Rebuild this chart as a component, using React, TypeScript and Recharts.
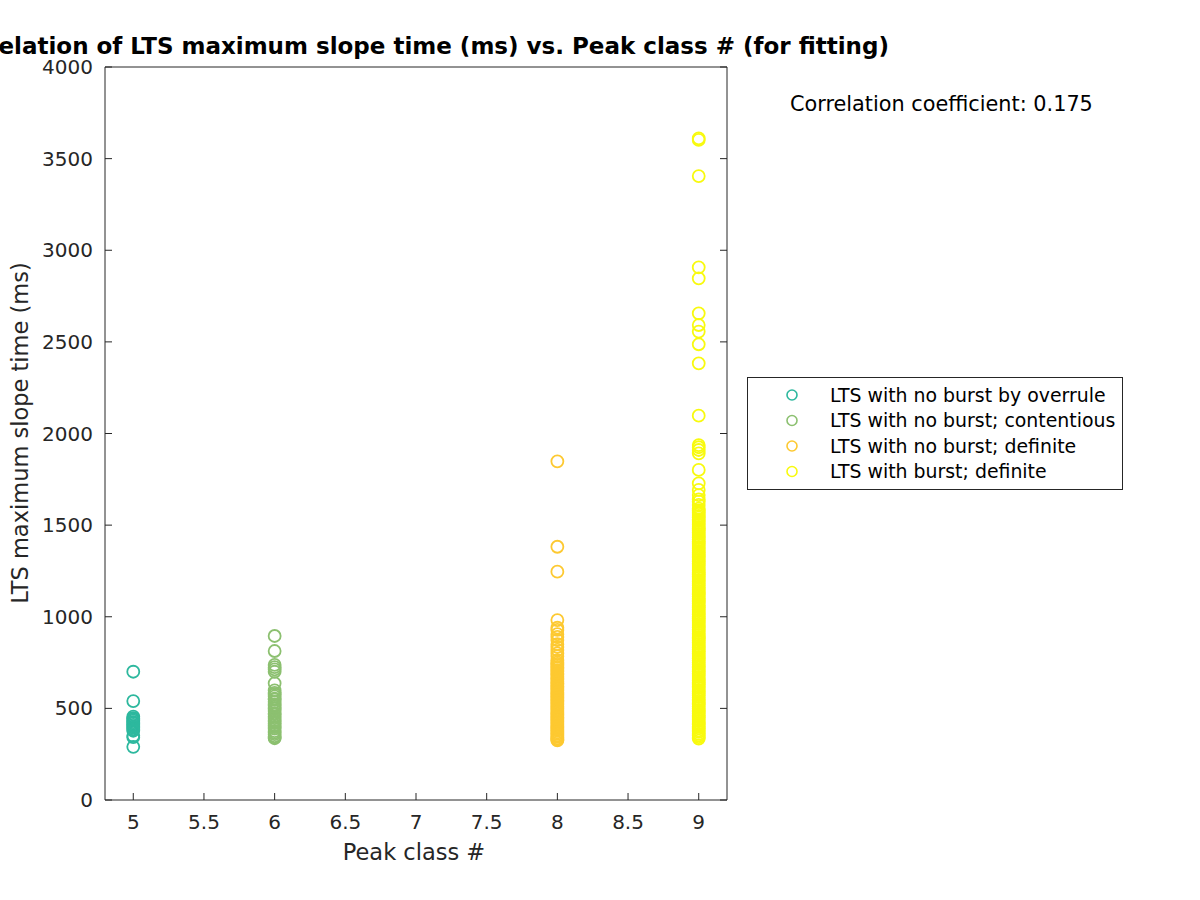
import React from 'react';
import { ScatterChart, Scatter, XAxis, YAxis, Legend, Label } from 'recharts';

// Peak class of each group
const peakClasses = [5, 6, 8, 9];
const seriesNames = [
  'LTS with no burst by overrule',
  'LTS with no burst; contentious',
  'LTS with no burst; definite',
  'LTS with burst; definite',
];

// LTS maximum slope times (ms)
const overruleTimes = [700, 540, 455, 447, 440, 433, 425, 418, 410, 402, 395, 386, 378, 350, 343, 290];
const contentiousTimes = [
  895, 813, 737, 725, 713, 700, 637, 598, 585, 577, 566, 553, 548, 536, 522, 515, 503, 497, 486, 474,
  468, 455, 447, 436, 428, 419, 407, 398, 389, 376, 368, 359, 348, 341, 337,
];
const definiteNoBurstTimes = [
  1848, 1382, 1246, 982, 940, 928, 905, 890, 873, 850, 835, 819, 800, 785,
  762, 751, 743, 735, 726, 718, 709, 701, 690, 684, 673, 665, 657, 648, 639, 631, 622, 614, 606, 597,
  588, 580, 571, 563, 555, 546, 538, 529, 521, 512, 504, 496, 487, 479, 470, 462, 453, 445, 437, 428,
  420, 411, 403, 395, 386, 378, 369, 361, 352, 344, 336, 329, 325,
];
const burstTimes = [
  3611, 3602, 3405, 2907, 2847, 2656, 2592, 2556, 2487, 2383, 2097, 1937, 1925, 1910, 1892, 1801, 1728,
  1692, 1664, 1640, 1628, 1610,
  1590, 1579, 1570, 1561, 1550, 1541, 1530, 1522, 1511, 1502, 1490, 1481, 1472, 1460, 1451, 1440, 1432,
  1421, 1410, 1401, 1392, 1380, 1371, 1360, 1352, 1341, 1330, 1322, 1310, 1301, 1290, 1282, 1271, 1260,
  1251, 1240, 1231, 1220, 1212, 1200, 1191, 1180, 1172, 1161, 1150, 1141, 1130, 1122, 1110, 1101, 1090,
  1082, 1071, 1060, 1051, 1040, 1031, 1020, 1012, 1000, 991, 980, 972, 961, 950, 941, 930, 922, 910, 901,
  890, 882, 871, 860, 851, 840, 831, 820, 812, 800, 791, 780, 772, 761, 750, 741, 730, 722, 710, 701, 690,
  682, 671, 660, 651, 640, 631, 620, 612, 600, 591, 580, 572, 561, 550, 541, 530, 522, 510, 501, 490, 482,
  471, 460, 451, 440, 431, 420, 412, 400, 391, 380, 372, 361, 352, 343, 335,
];

const xTicks = [5, 5.5, 6, 6.5, 7, 7.5, 8, 8.5, 9];
const yTicks = [0, 500, 1000, 1500, 2000, 2500, 3000, 3500, 4000];
const correlationText = 'Correlation coefficient: 0.175';
const titleText = 'Correlation of LTS maximum slope time (ms) vs. Peak class # (for fitting)';

const colors = ['#2db89e', '#8cc070', '#fdc931', '#f8fa0e'];
const axisColor = '#262626';
const FONT = 'DejaVu Sans';

const groups = [overruleTimes, contentiousTimes, definiteNoBurstTimes, burstTimes];
const seriesData = groups.map((g, i) => g.map((v) => ({ x: peakClasses[i], y: v })));

const TICK = 7;

const BottomTick = (p: any) => (
  <g>
    <line x1={p.x} y1={p.y} x2={p.x} y2={p.y - TICK} stroke={axisColor} strokeWidth={1} />
    <text x={p.x} y={p.y + 29} textAnchor="middle" fontSize={20} fill={axisColor} fontFamily={FONT}>
      {String(p.payload.value)}
    </text>
  </g>
);
const TopTick = (p: any) => (
  <line x1={p.x} y1={p.y} x2={p.x} y2={p.y + TICK} stroke={axisColor} strokeWidth={1} />
);
const LeftTick = (p: any) => (
  <g>
    <line x1={p.x} y1={p.y} x2={p.x + TICK} y2={p.y} stroke={axisColor} strokeWidth={1} />
    <text x={p.x - 12} y={p.y + 7} textAnchor="end" fontSize={20} fill={axisColor} fontFamily={FONT}>
      {String(p.payload.value)}
    </text>
  </g>
);
const RightTick = (p: any) => (
  <line x1={p.x} y1={p.y} x2={p.x - TICK} y2={p.y} stroke={axisColor} strokeWidth={1} />
);

const makeShape = (color: string) => (p: any) => (
  <circle cx={p.cx} cy={p.cy} r={6} fill="none" stroke={color} strokeWidth={1.8} />
);

const LegendBox = () => (
  <svg width={377} height={114} style={{ display: 'block' }}>
    <rect x={0.5} y={0.5} width={375} height={112} fill="#ffffff" stroke={axisColor} strokeWidth={1} />
    {seriesNames.map((name, i) => {
      const cy = 18 + i * 25.5;
      return (
        <g key={name}>
          <circle cx={45} cy={cy} r={5} fill="none" stroke={colors[i]} strokeWidth={1.6} />
          <text x={83} y={cy + 6.5} fontSize={18.9} fill="#000" fontFamily={FONT}>
            {name}
          </text>
        </g>
      );
    })}
  </svg>
);

export default function App() {
  return (
    <div style={{ position: 'absolute', left: 0, top: 0, width: 1200, height: 900, background: '#fff', fontFamily: FONT }}>
      <ScatterChart width={1200} height={900} margin={{ top: 0, right: 0, bottom: 0, left: 0 }}>
        <XAxis
          xAxisId={0}
          type="number"
          dataKey="x"
          orientation="bottom"
          domain={[4.8, 9.2]}
          ticks={xTicks}
          allowDataOverflow
          height={100}
          tickSize={0}
          tickMargin={0}
          tickLine={false}
          axisLine={{ stroke: axisColor, strokeWidth: 1 }}
          tick={BottomTick}
          interval={0}
        >
          <Label
            content={() => (
              <text x={414} y={860} textAnchor="middle" fontSize={22.5} fill={axisColor} fontFamily={FONT}>
                Peak class #
              </text>
            )}
          />
        </XAxis>
        <XAxis
          xAxisId="top"
          type="number"
          orientation="top"
          domain={[4.8, 9.2]}
          ticks={xTicks}
          allowDataOverflow
          height={67}
          tickSize={0}
          tickMargin={0}
          tickLine={false}
          axisLine={{ stroke: axisColor, strokeWidth: 1 }}
          tick={TopTick}
          interval={0}
        >
          <Label
            content={() => (
              <text x={416} y={54} textAnchor="middle" fontSize={23} fontWeight="bold" fill="#000" fontFamily={FONT}>
                {titleText}
              </text>
            )}
          />
        </XAxis>
        <YAxis
          yAxisId={0}
          type="number"
          dataKey="y"
          orientation="left"
          domain={[0, 4000]}
          ticks={yTicks}
          allowDataOverflow
          width={105}
          tickSize={0}
          tickMargin={0}
          tickLine={false}
          axisLine={{ stroke: axisColor, strokeWidth: 1 }}
          tick={LeftTick}
          interval={0}
        >
          <Label
            content={() => (
              <text
                x={28}
                y={433}
                transform="rotate(-90 28 433)"
                textAnchor="middle"
                fontSize={22.5}
                fill={axisColor}
                fontFamily={FONT}
              >
                LTS maximum slope time (ms)
              </text>
            )}
          />
        </YAxis>
        <YAxis
          yAxisId="right"
          type="number"
          orientation="right"
          domain={[0, 4000]}
          ticks={yTicks}
          allowDataOverflow
          width={473}
          tickSize={0}
          tickMargin={0}
          tickLine={false}
          axisLine={{ stroke: axisColor, strokeWidth: 1 }}
          tick={RightTick}
          interval={0}
        >
          <Label
            content={() => (
              <text x={790} y={111} fontSize={20.8} fill="#000" fontFamily={FONT}>
                {correlationText}
              </text>
            )}
          />
        </YAxis>
        {seriesData.map((d, i) => (
          <Scatter
            key={seriesNames[i]}
            name={seriesNames[i]}
            data={d}
            xAxisId={0}
            yAxisId={0}
            fill="none"
            stroke={colors[i]}
            shape={makeShape(colors[i])}
            isAnimationActive={false}
          />
        ))}
        <Legend
          layout="vertical"
          align="center"
          verticalAlign="middle"
          content={() => <LegendBox />}
          wrapperStyle={{ position: 'absolute', left: 747, top: 377, width: 377, height: 114, margin: 0 }}
        />
      </ScatterChart>
    </div>
  );
}
